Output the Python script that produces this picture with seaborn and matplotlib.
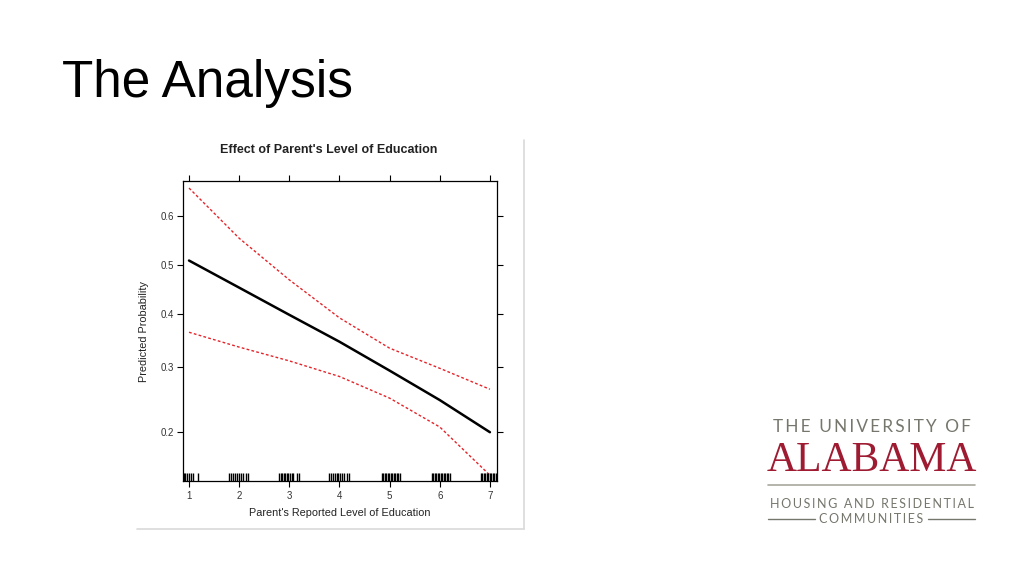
import matplotlib
matplotlib.use("Agg")
import numpy as np
import pandas as pd
import matplotlib.pyplot as plt
import seaborn as sns
from matplotlib.lines import Line2D

# effect-plot values (probability scale)
education = [1, 2, 3, 4, 5, 6, 7]
fit = [0.509, 0.453, 0.398, 0.346, 0.294, 0.246, 0.200]
upper = [0.654, 0.555, 0.469, 0.392, 0.334, 0.298, 0.263]
lower = [0.364, 0.336, 0.311, 0.284, 0.249, 0.207, 0.149]

# jittered observations shown in the rug
rug_obs = [
    0.90, 0.93, 0.96, 1.00, 1.04, 1.08, 1.17,
    1.80, 1.84, 1.88, 1.92, 1.96, 2.00, 2.04, 2.08, 2.13, 2.17,
    2.80, 2.83, 2.86, 2.89, 2.92, 2.95, 2.98, 3.01, 3.05, 3.08, 3.16, 3.20,
    3.80, 3.84, 3.88, 3.92, 3.95, 3.98, 4.02, 4.06, 4.10, 4.16, 4.20,
    4.84, 4.87, 4.90, 4.93, 4.96, 4.99, 5.02, 5.05, 5.08, 5.11, 5.14, 5.17, 5.20,
    5.84, 5.87, 5.90, 5.93, 5.96, 5.99, 6.02, 6.05, 6.08, 6.11, 6.14, 6.17, 6.20,
    6.82, 6.85, 6.88, 6.91, 6.94, 6.97, 7.00, 7.03, 7.06, 7.09, 7.12,
]

yticks = [0.2, 0.3, 0.4, 0.5, 0.6]

df = pd.DataFrame({"education": education, "fit": fit, "upper": upper, "lower": lower})

sns.set_theme(style="white")
plt.rcParams["font.family"] = ["Liberation Sans", "DejaVu Sans"]

fig = plt.figure(figsize=(10.24, 5.76), dpi=100)
fig.patch.set_facecolor("white")

fig.text(0.061, 0.855, "The Analysis", fontsize=37, color="black", va="center", ha="left")

ax = fig.add_axes([0.1787, 0.1649, 0.3066, 0.5208])
ax.set_yscale("logit")

sns.lineplot(data=df, x="education", y="fit", color="black", lw=1.8, ax=ax)
sns.lineplot(data=df, x="education", y="upper", color="#e5242a", lw=1.0,
             linestyle=(0, (2.0, 1.6)), ax=ax)
sns.lineplot(data=df, x="education", y="lower", color="#e5242a", lw=1.0,
             linestyle=(0, (2.0, 1.6)), ax=ax)
sns.rugplot(x=rug_obs, height=0.027, color="black", lw=1.5, ax=ax)

ax.set_xlim(0.88, 7.14)
ax.set_ylim(0.143, 0.667)
ax.set_xticks(education)
ax.set_xticklabels([str(v) for v in education])
ax.set_yticks(yticks)
ax.set_yticklabels([f"{v:.1f}" for v in yticks])
ax.yaxis.set_minor_locator(matplotlib.ticker.NullLocator())

for s in ax.spines.values():
    s.set_visible(True)
    s.set_color("black")
    s.set_linewidth(0.9)

ax.tick_params(axis="both", which="major", direction="out", length=4.5, width=0.8,
               color="black", labelsize=7, labelcolor="#333333",
               top=True, right=True, bottom=True, left=True,
               labeltop=False, labelright=False)
ax.tick_params(axis="x", pad=3)
ax.tick_params(axis="y", pad=2)

ax.set_title("Effect of Parent's Level of Education", fontsize=9, fontweight="bold",
             color="#222222", pad=20, x=0.465)
ax.set_xlabel("Parent's Reported Level of Education", fontsize=7.8, color="#222222", labelpad=5)
ax.set_ylabel("Predicted Probability", fontsize=7.8, color="#222222", labelpad=8)
ax.grid(False)

# faint frame of the pasted picture (right and bottom edges)
fig.add_artist(Line2D([524 / 1024, 524 / 1024], [1 - 140 / 576, 1 - 529 / 576],
                      color="#d9d9d9", lw=1.2))
fig.add_artist(Line2D([137 / 1024, 524 / 1024], [1 - 529 / 576, 1 - 529 / 576],
                      color="#d9d9d9", lw=1.2))

# university logo
gray = "#76766d"
red = "#9e1b32"
thin = "\u2009"
logo_x = 871.5 / 1024
logo_font = ["Lato", "DejaVu Sans"]
fig.text(logo_x, 1 - 427 / 576, thin.join("THE UNIVERSITY OF"), fontsize=12.4, color=gray,
         ha="center", va="center", family=logo_font)
fig.text(logo_x, 1 - 461 / 576, "ALABAMA", fontsize=30, color=red,
         ha="center", va="center", family=["Liberation Serif", "DejaVu Serif"])
fig.add_artist(Line2D([768 / 1024, 975 / 1024], [1 - 485 / 576, 1 - 485 / 576],
                      color="#a8a8a0", lw=1.2))
fig.text(logo_x, 1 - 504 / 576, thin.join("HOUSING AND RESIDENTIAL"), fontsize=9, color=gray,
         ha="center", va="center", family=logo_font)
fig.text(logo_x, 1 - 519 / 576, thin.join("COMMUNITIES"), fontsize=9, color=gray,
         ha="center", va="center", family=logo_font)
fig.add_artist(Line2D([768 / 1024, 815 / 1024], [1 - 519 / 576, 1 - 519 / 576],
                      color=gray, lw=1.0))
fig.add_artist(Line2D([928 / 1024, 975 / 1024], [1 - 519 / 576, 1 - 519 / 576],
                      color=gray, lw=1.0))

fig.savefig("out.png", dpi=100, facecolor="white")
